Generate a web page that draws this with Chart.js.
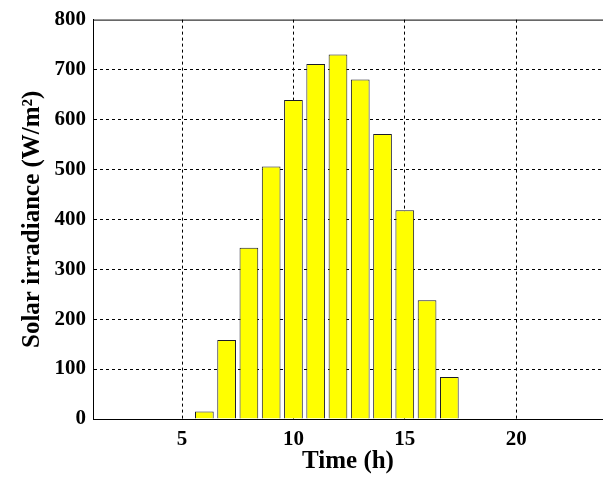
<!DOCTYPE html>
<html>
<head>
<meta charset="utf-8">
<script src="https://cdn.jsdelivr.net/npm/chart.js@4/dist/chart.umd.min.js"></script>
<style>
html,body{margin:0;padding:0;background:#fff;overflow:hidden;}
#wrap{width:603px;height:481px;position:relative;}
</style>
</head>
<body>
<div id="wrap"><canvas id="c" width="603" height="481"></canvas></div>
<script>
const hours = [6, 7, 8, 9, 10, 11, 12, 13, 14, 15, 16, 17];
const irradiance = [15, 158, 343, 506, 639, 711, 730, 680, 571, 418, 238, 84];
const xTicks = [5, 10, 15, 20];
const yTicks = [0, 100, 200, 300, 400, 500, 600, 700, 800];

const topBorder = {
  id: 'topBorder',
  afterDraw(chart) {
    const a = chart.chartArea, ctx = chart.ctx;
    ctx.save();
    ctx.strokeStyle = '#000';
    ctx.lineWidth = 1;
    ctx.beginPath();
    ctx.moveTo(a.left, a.top + 0.5);
    ctx.lineTo(a.right, a.top + 0.5);
    ctx.stroke();
    ctx.restore();
  }
};

const tickFont = {family: '"Liberation Serif", "Times New Roman", serif', size: 21, weight: 'bold'};
const titleFont = {family: '"Liberation Serif", "Times New Roman", serif', size: 25, weight: 'bold'};

new Chart(document.getElementById('c'), {
  type: 'bar',
  data: {
    datasets: [{
      data: hours.map((h, i) => ({x: h, y: irradiance[i]})),
      backgroundColor: '#ffff00',
      borderColor: '#1a1a2a',
      borderWidth: 1,
      barPercentage: 1,
      categoryPercentage: 0.84
    }]
  },
  plugins: [topBorder],
  options: {
    responsive: false,
    animation: false,
    layout: {padding: {top: 17, right: 0, left: 0, bottom: 0}},
    plugins: {legend: {display: false}, tooltip: {enabled: false}},
    scales: {
      x: {
        type: 'linear',
        offset: false,
        min: 1,
        max: 23.9,
        afterBuildTicks: s => { s.ticks = xTicks.map(v => ({value: v})); },
        afterFit: s => { s.height = 62; },
        grid: {color: '#000', lineWidth: 1, drawTicks: false, offset: false},
        border: {display: true, color: '#000', width: 1, dash: [3, 3]},
        ticks: {color: '#000', font: tickFont, padding: 8, maxRotation: 0},
        title: {display: true, text: 'Time (h)', color: '#000', font: titleFont, padding: {top: 0, bottom: 4}}
      },
      y: {
        min: 0,
        max: 800,
        afterBuildTicks: s => { s.ticks = yTicks.map(v => ({value: v})); },
        afterFit: s => { s.width = 93; },
        grid: {
          color: ctx => (ctx.tick && (ctx.tick.value === 0 || ctx.tick.value === 800)) ? 'rgba(0,0,0,0)' : '#000',
          lineWidth: 1, drawTicks: false
        },
        border: {display: true, color: '#000', width: 1, dash: [3, 3]},
        ticks: {color: '#000', font: tickFont, padding: 7},
        title: {display: true, text: 'Solar irradiance (W/m²)', color: '#000', font: titleFont, padding: {top: 18, bottom: 0}}
      }
    }
  }
});
</script>
</body>
</html>
